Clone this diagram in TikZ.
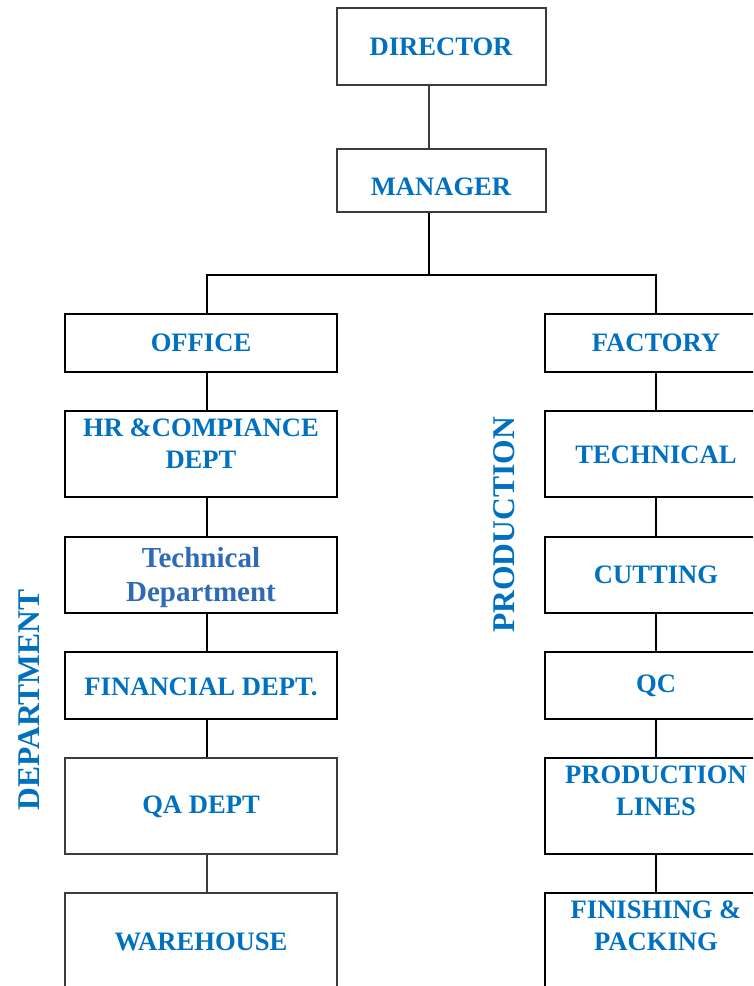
\documentclass[tikz,border=0pt]{standalone}
\usepackage{fontspec}
\setmainfont{Liberation Serif}
\definecolor{orgblue}{HTML}{0070C0}
\definecolor{techblue}{HTML}{2F6BB5}
\definecolor{framegray}{HTML}{3C3C3C}
\tikzset{
  unitbox/.style={draw=black, line width=2.8pt, rectangle, inner sep=0pt},
  graybox/.style={unitbox, draw=framegray},
  unittext/.style={text=orgblue, font=\bfseries\fontsize{26.6}{32}\selectfont, align=center, inner sep=0pt},
  sidetext/.style={text=orgblue, font=\bfseries\fontsize{31.6}{36}\selectfont, rotate=90, inner sep=0pt},
  link/.style={draw=black, line width=2.8pt},
  graylink/.style={link, draw=framegray}
}
\begin{document}
\begin{tikzpicture}[x=1pt,y=-1pt]
\useasboundingbox (0,0) rectangle (753,986);
\clip (0,0) rectangle (753,986);
% top of the chart
\node[graybox, minimum width=209pt, minimum height=77pt] (dir) at (441.5,46.5) {};
\node[graybox, minimum width=209pt, minimum height=63pt] (mgr) at (441.5,180.5) {};
\node[unitbox, minimum width=272pt, minimum height=58pt] (office) at (201,343) {};
\node[unitbox, minimum width=222pt, minimum height=58pt] (factory) at (656,343) {};
% office column
\node[unitbox, minimum width=272pt, minimum height=86pt] (hr) at (201,454) {};
\node[unitbox, minimum width=272pt, minimum height=76pt] (techdept) at (201,575) {};
\node[unitbox, minimum width=272pt, minimum height=67pt] (fin) at (201,685.5) {};
\node[graybox, minimum width=272pt, minimum height=96pt] (qa) at (201,806) {};
\node[graybox, minimum width=272pt, minimum height=110pt] (wh) at (201,948) {};
% factory column
\node[unitbox, minimum width=222pt, minimum height=86pt] (tech) at (656,454) {};
\node[unitbox, minimum width=222pt, minimum height=76pt] (cut) at (656,575) {};
\node[unitbox, minimum width=222pt, minimum height=67pt] (qc) at (656,685.5) {};
\node[unitbox, minimum width=222pt, minimum height=96pt] (pl) at (656,806) {};
\node[unitbox, minimum width=222pt, minimum height=110pt] (fp) at (656,948) {};
% texts
\node[unittext] (tdir) at (441,47) {DIRECTOR};
\node[unittext] (tmgr) at (441,187) {MANAGER};
\node[unittext] (toffice) at (201,343) {OFFICE};
\node[unittext] (tfactory) at (656,343) {FACTORY};
\node[unittext] (thr) at (201,444) {HR \&COMPIANCE\\DEPT};
\node[unittext, text=techblue, font=\bfseries\fontsize{29}{34}\selectfont] (ttechdept) at (201,578) {Technical\\Department};
\node[unittext] (tfin) at (201,687) {FINANCIAL DEPT.};
\node[unittext] (tqa) at (201,807) {QA DEPT};
\node[unittext] (twh) at (201,942) {WAREHOUSE};
\node[unittext] (ttech) at (656,455) {TECHNICAL};
\node[unittext] (tcut) at (656,575) {CUTTING};
\node[unittext] (tqc) at (656,686) {QC};
\node[unittext] (tpl) at (656,791) {PRODUCTION\\LINES};
\node[unittext] (tfp) at (656,926) {FINISHING \&\\PACKING};
\node[sidetext] (tdepartment) at (29,700) {DEPARTMENT};
\node[sidetext] (tproduction) at (504,525) {PRODUCTION};
% connectors
\coordinate (tx) at (429,0);
\coordinate (lx) at (207,0);
\coordinate (split) at (429,275);
\draw[graylink] (dir.south -| tx) -- (mgr.north -| tx);
\draw[link] (mgr.south -| tx) -- (split);
\draw[link] (office.north -| lx) |- (split) -| (factory.north);
\foreach \a/\b in {office/hr, hr/techdept, techdept/fin, fin/qa}
  \draw[link] (\a.south -| lx) -- (\b.north -| lx);
\draw[graylink] (qa.south -| lx) -- (wh.north -| lx);
\foreach \a/\b in {factory/tech, tech/cut, cut/qc, qc/pl, pl/fp}
  \draw[link] (\a.south) -- (\b.north);
\end{tikzpicture}
\end{document}
